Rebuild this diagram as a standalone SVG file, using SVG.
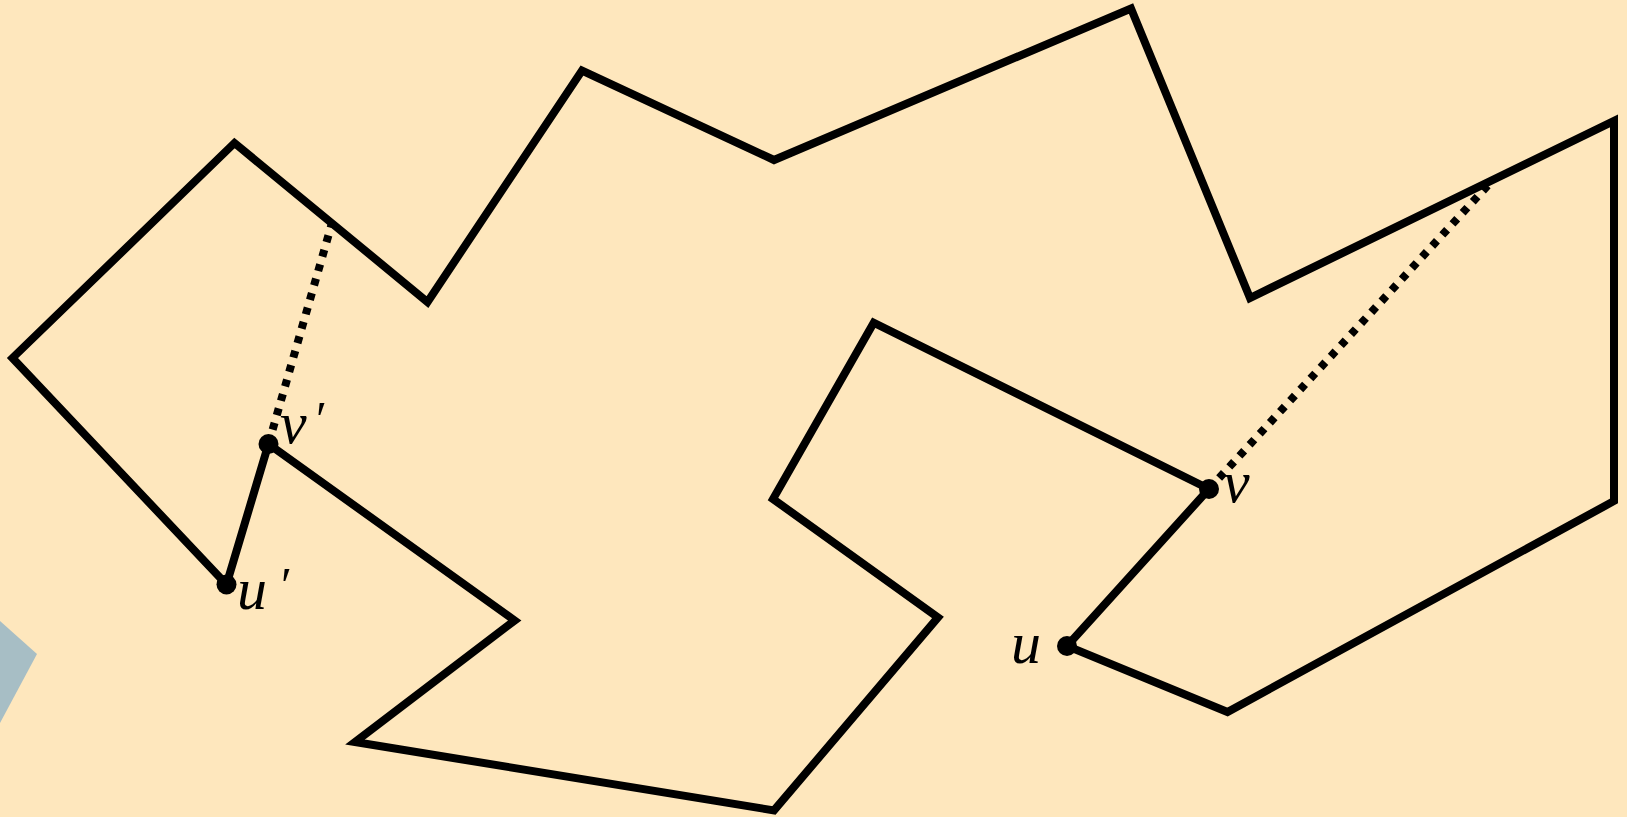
<svg xmlns="http://www.w3.org/2000/svg" width="1627" height="817" viewBox="0 0 1627 817">
<style>
.edge{fill:none;stroke:#000;stroke-width:8;stroke-linejoin:miter;stroke-miterlimit:10}
.dot{fill:none;stroke:#000;stroke-width:8;stroke-dasharray:7 8}
.vtx{fill:#000}
.lbl{font-family:"Liberation Serif","DejaVu Serif",serif;font-style:italic;font-size:60px;fill:#000}
.prm{font-family:"Liberation Serif","DejaVu Serif",serif;font-size:50px;fill:#000}
</style>
<rect width="1627" height="817" fill="#fee7bd"/>
<polygon points="0,621 37,654 0,723" fill="#a7bec5"/>
<g id="connectors">
<polygon class="edge" points="234.5,143 427.5,302 582,70.5 774,160 1131,8.5 1250,298 1614,121 1614,501 1227.5,712 1067,646 1209,489 873.7,322.7 773,499 938,617.4 774,810.4 355,742 514.7,620.5 268.5,444 226.5,584.5 12.5,358"/>
<line class="dot" x1="268.5" y1="444" x2="332" y2="223"/>
<line class="dot" x1="1209" y1="489" x2="1490" y2="183"/>
</g>
<g id="node-u-prime">
<circle class="vtx" cx="226.5" cy="584.5" r="10"/>
<text class="lbl" x="237" y="609">u</text><text class="prm" x="281" y="602">′</text>
</g>
<g id="node-v-prime">
<circle class="vtx" cx="268.5" cy="444" r="10"/>
<text class="lbl" x="280" y="443">v</text><text class="prm" x="316" y="436">′</text>
</g>
<g id="node-u">
<circle class="vtx" cx="1067" cy="646" r="10"/>
<text class="lbl" x="1011" y="663">u</text>
</g>
<g id="node-v">
<circle class="vtx" cx="1209" cy="489" r="10"/>
<text class="lbl" x="1223" y="502">v</text>
</g>
</svg>
